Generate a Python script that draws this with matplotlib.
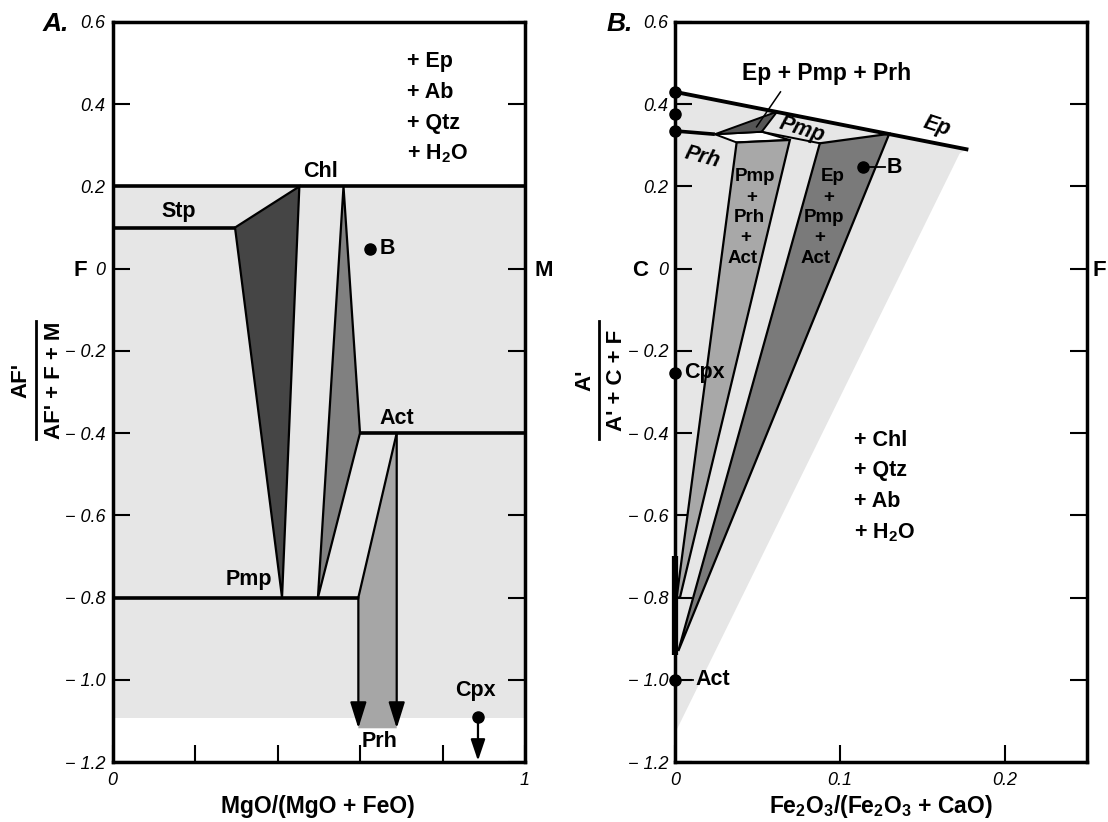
import numpy as np
import matplotlib.pyplot as plt
from matplotlib.patches import Polygon
from matplotlib.lines import Line2D

plt.rcParams['font.family'] = ['Liberation Sans', 'DejaVu Sans']
plt.rcParams['mathtext.default'] = 'regular'

W, H = 1108, 822

# ---- panel A : MgO/(MgO+FeO) vs AF'/(AF'+F+M)
a_field_x = [0.0, 1.0, 1.0, 0.0]
a_field_y = [0.2, 0.2, -1.093, -1.093]
chl_line_x = [0.0, 1.0]
chl_line_y = [0.2, 0.2]
stp_line_x = [0.0, 0.297]
stp_line_y = [0.1, 0.1]
act_line_x = [0.60, 1.0]
act_line_y = [-0.4, -0.4]
pmp_line_x = [0.0, 0.596]
pmp_line_y = [-0.8, -0.8]
stp_chl_pmp_x = [0.297, 0.453, 0.411]
stp_chl_pmp_y = [0.1, 0.2, -0.8]
chl_act_pmp_x = [0.56, 0.60, 0.498]
chl_act_pmp_y = [0.2, -0.4, -0.8]
prh_x = [0.689, 0.596, 0.596, 0.689]
prh_y = [-0.4, -0.8, -1.118, -1.118]
a_bulk = (0.625, 0.048)
a_cpx = (0.886, -1.09)

# ---- panel B : Fe2O3/(Fe2O3+CaO) vs A'/(A'+C+F)
b_field_x = [0.0, 0.177, 0.1727, 0.0]
b_field_y = [0.43, 0.291, 0.28, -1.13]
ep_line_x = [0.0, 0.178]
ep_line_y = [0.43, 0.2895]
prh_line_x = [0.0, 0.0242]
prh_line_y = [0.335, 0.327]
ep_pmp_prh_x = [0.0242, 0.062, 0.0526]
ep_pmp_prh_y = [0.327, 0.382, 0.333]
pmp_prh_x = [0.0242, 0.0526, 0.0697, 0.0374]
pmp_prh_y = [0.327, 0.333, 0.313, 0.307]
pmp_base_x = [0.0526, 0.0879]
pmp_base_y = [0.333, 0.305]
pmp_prh_act_x = [0.0374, 0.0697, 0.003, 0.001]
pmp_prh_act_y = [0.307, 0.313, -0.80, -0.80]
ep_pmp_act_x = [0.0879, 0.130, 0.002]
ep_pmp_act_y = [0.305, 0.328, -0.93]
act_cpx_y = [-0.70, -0.94]
b_axis_pts_y = [0.43, 0.375, 0.335, -0.253, -1.0]
b_bulk = (0.114, 0.247)

yticks = [0.6, 0.4, 0.2, 0.0, -0.2, -0.4, -0.6, -0.8, -1.0, -1.2]


def ylab(v):
    if abs(v) < 1e-9:
        return '0'
    if v < 0:
        return '\u2212 %.1f' % abs(v)
    return '%.1f' % v


LIGHT = '#e6e6e6'


def setup(ax, xmax, xt, xtl):
    ax.set_xlim(0, xmax)
    ax.set_ylim(-1.2, 0.6)
    ax.set_yticks(yticks)
    ax.set_yticklabels([ylab(v) for v in yticks], fontsize=13, style='italic')
    ax.set_xticks(xt)
    ax.set_xticklabels(xtl, fontsize=13, style='italic')
    ax.tick_params(direction='in', length=12, width=1.5, right=True, top=False,
                   pad=5)
    ax.tick_params(axis='x', pad=7)
    for s in ax.spines.values():
        s.set_linewidth(2.5)
        s.set_zorder(6)


fig = plt.figure(figsize=(W / 100, H / 100), dpi=100)
axA = fig.add_axes([112.5 / W, 1 - 762 / H, 412.5 / W, 740 / H])
axB = fig.add_axes([675 / W, 1 - 762 / H, 412 / W, 740 / H])

# ---------------- A
ax = axA
setup(ax, 1.0, [0, 0.2, 0.4, 0.6, 0.8, 1.0], ['0', '', '', '', '', '1'])
ax.fill(a_field_x, a_field_y, color=LIGHT, lw=0, zorder=1)
ax.add_patch(Polygon(np.column_stack([stp_chl_pmp_x, stp_chl_pmp_y]), fc='#454545',
                     ec='k', lw=1.6, zorder=3))
ax.add_patch(Polygon(np.column_stack([chl_act_pmp_x, chl_act_pmp_y]), fc='#808080',
                     ec='k', lw=1.6, zorder=3))
ax.fill(prh_x, prh_y, color='#a6a6a6', lw=0, zorder=2)
ax.plot(prh_x[:2], prh_y[:2], color='k', lw=1.6, zorder=3)
for xv, ytop in [(prh_x[1], prh_y[1]), (prh_x[0], prh_y[0])]:
    ax.annotate('', xy=(xv, prh_y[2]), xytext=(xv, ytop),
                arrowprops=dict(arrowstyle='-|>,head_length=0.8,head_width=0.25',
                                color='k', lw=1.6, mutation_scale=20,
                                shrinkA=0, shrinkB=0), zorder=4)
for lx, ly in [(chl_line_x, chl_line_y), (stp_line_x, stp_line_y),
               (act_line_x, act_line_y), (pmp_line_x, pmp_line_y)]:
    ax.plot(lx, ly, color='k', lw=2.6, solid_capstyle='butt', zorder=4)
ax.plot(*a_bulk, 'o', color='k', ms=8, zorder=5)
ax.plot(*a_cpx, 'o', color='k', ms=8, zorder=5)
ax.annotate('', xy=(a_cpx[0], -1.197), xytext=a_cpx,
            arrowprops=dict(arrowstyle='-|>,head_length=0.65,head_width=0.22',
                            color='k', lw=1.6, mutation_scale=20,
                            shrinkA=0, shrinkB=0), zorder=4)

lab = dict(fontsize=15.5, weight='bold', zorder=7)
ax.text(0.16, 0.138, 'Stp', ha='center', va='center', **lab)
ax.text(0.504, 0.236, 'Chl', ha='center', va='center', **lab)
ax.text(a_bulk[0] + 0.022, a_bulk[1], 'B', ha='left', va='center', **lab)
ax.text(0.688, -0.364, 'Act', ha='center', va='center', **lab)
ax.text(0.331, -0.756, 'Pmp', ha='center', va='center', **lab)
ax.text(0.648, -1.151, 'Prh', ha='center', va='center', **lab)
ax.text(0.881, -1.025, 'Cpx', ha='center', va='center', **lab)
for i, s in enumerate(['+ Ep', '+ Ab', '+ Qtz', '+ H$_2$O']):
    ax.text(0.714, 0.503 - 0.0745 * i, s, ha='left', va='center', **lab)

# ---------------- B
ax = axB
setup(ax, 0.25, [0, 0.1, 0.2], ['0', '0.1', '0.2'])
ax.fill(b_field_x, b_field_y, color=LIGHT, lw=0, zorder=1)
ax.add_patch(Polygon(np.column_stack([pmp_prh_x, pmp_prh_y]), fc='white',
                     ec='k', lw=1.4, zorder=2))
ax.add_patch(Polygon(np.column_stack([ep_pmp_prh_x, ep_pmp_prh_y]), fc='#555555',
                     ec='k', lw=1.4, zorder=3))
ax.add_patch(Polygon(np.column_stack([pmp_prh_act_x, pmp_prh_act_y]), fc='#a8a8a8',
                     ec='k', lw=1.6, zorder=3))
ax.add_patch(Polygon(np.column_stack([ep_pmp_act_x, ep_pmp_act_y]), fc='#7a7a7a',
                     ec='k', lw=1.6, zorder=3))
ax.plot(pmp_base_x, pmp_base_y, color='k', lw=1.4, zorder=3)
ax.plot(ep_line_x, ep_line_y, color='k', lw=2.8, solid_capstyle='butt', zorder=4)
ax.plot(prh_line_x, prh_line_y, color='k', lw=2.6, solid_capstyle='butt', zorder=4)
ax.plot([0, 0], act_cpx_y, color='k', lw=4.5, solid_capstyle='butt',
        clip_on=False, zorder=7)
ax.plot([0] * len(b_axis_pts_y), b_axis_pts_y, 'o', color='k', ms=8,
        clip_on=False, zorder=8)
ax.plot(*b_bulk, 'o', color='k', ms=8, zorder=5)
ax.plot([b_bulk[0], b_bulk[0] + 0.0135], [b_bulk[1]] * 2, color='k', lw=1.3, zorder=5)
ax.text(b_bulk[0] + 0.0145, b_bulk[1], 'B', ha='left', va='center', **lab)
ax.plot([0.003, 0.011], [-1.0, -1.0], color='k', lw=1.3, zorder=5)
ax.text(0.0125, -1.0, 'Act', ha='left', va='center', **lab)
ax.text(0.0055, -0.253, 'Cpx', ha='left', va='center', **lab)

ax.text(0.092, 0.475, 'Ep + Pmp + Prh', ha='center', va='center', fontsize=16.5,
        weight='bold', zorder=7)
ax.plot([0.064, 0.0495], [0.43, 0.345], color='k', lw=1.1, zorder=5)
ital = dict(fontsize=15.5, weight='bold', style='italic', ha='center', va='center',
            zorder=7)
ax.text(0.077, 0.337, 'Pmp', rotation=-17, **ital)
ax.text(0.159, 0.347, 'Ep', rotation=-18, **ital)
ax.text(0.0169, 0.272, 'Prh', rotation=-15, **ital)

stack = dict(fontsize=13.5, weight='bold', ha='center', va='center', zorder=7)
sy = np.linspace(0.224, 0.025, 5)
for s, xx, yy in zip(['Pmp', '+', 'Prh', '+', 'Act'], np.linspace(0.0486, 0.0412, 5), sy):
    ax.text(xx, yy, s, **stack)
for s, xx, yy in zip(['Ep', '+', 'Pmp', '+', 'Act'], np.linspace(0.0957, 0.0851, 5), sy):
    ax.text(xx, yy, s, **stack)
for i, s in enumerate(['+ Chl', '+ Qtz', '+ Ab', '+ H$_2$O']):
    ax.text(0.1088, -0.417 - 0.075 * i, s, ha='left', va='center', **lab)

# ---------------- figure-level labels
def ftext(x, y, s, **kw):
    fig.text(x / W, 1 - y / H, s, **kw)


big = dict(fontsize=16, weight='bold', va='center')
ftext(56, 24, 'A.', ha='center', fontsize=19, weight='bold', style='italic', va='center')
ftext(620, 24, 'B.', ha='center', fontsize=19, weight='bold', style='italic', va='center')
ftext(80, 270, 'F', ha='center', **big)
ftext(544, 270, 'M', ha='center', **big)
ftext(640, 270, 'C', ha='center', **big)
ftext(1092, 270, 'F', ha='left', **big)
ftext(318, 806, 'MgO/(MgO + FeO)', ha='center', fontsize=16.5, weight='bold', va='center')
ftext(881, 806, 'Fe$_2$O$_3$/(Fe$_2$O$_3$ + CaO)', ha='center', fontsize=16.5,
      weight='bold', va='center')

# fractions on the y axes
for bar_x, num_x, den_x, num, den in [(36, 21, 54, "AF'", "AF' + F + M"),
                                      (598.5, 585, 617, "A'", "A' + C + F")]:
    ftext(num_x, 380, num, ha='center', rotation=90, **big)
    ftext(den_x, 380, den, ha='center', rotation=90, **big)
    fig.add_artist(Line2D([bar_x / W] * 2, [1 - 321 / H, 1 - 439 / H], color='k',
                          lw=2.0, transform=fig.transFigure))

fig.savefig('out.png', dpi=100)
